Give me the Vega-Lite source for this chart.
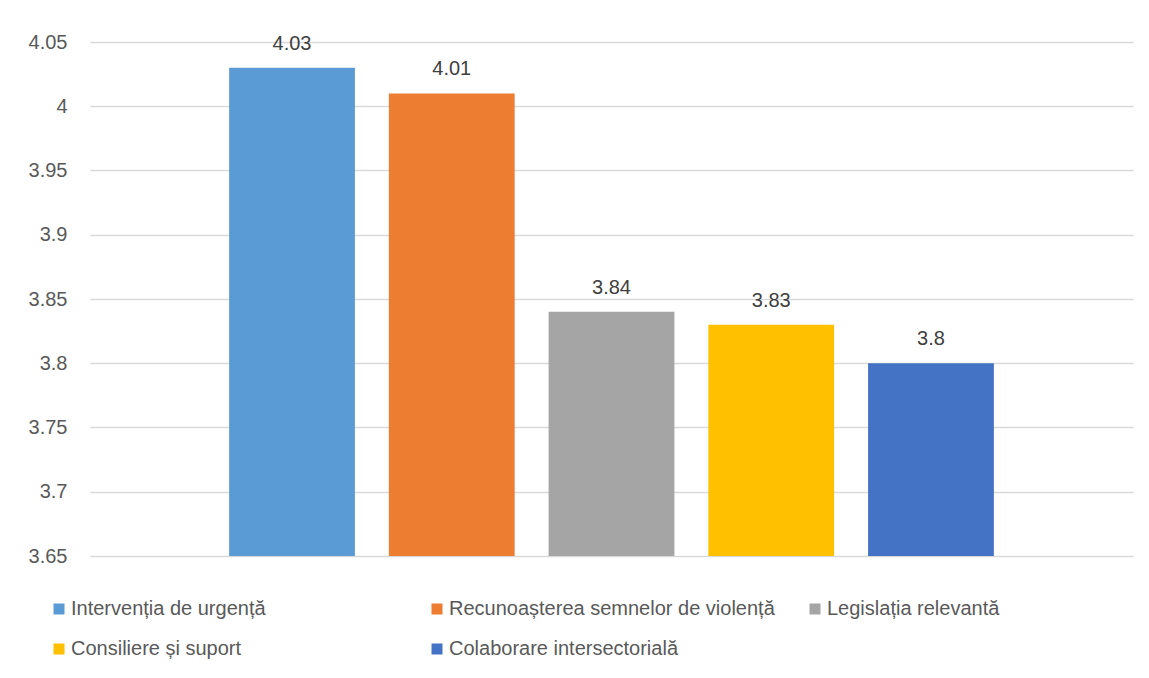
{
  "$schema": "https://vega.github.io/schema/vega-lite/v6.json",
  "autosize": {"type": "none"},
  "padding": {"left": 90, "top": 42, "right": 16, "bottom": 122},
  "width": 1043,
  "height": 514,
  "background": "white",
  "config": {
    "view": {"stroke": null},
    "font": "Liberation Sans"
  },
  "data": {
    "values": [
      {"serie": "Intervenția de urgență", "scor": 4.03},
      {"serie": "Recunoașterea semnelor de violență", "scor": 4.01},
      {"serie": "Legislația relevantă", "scor": 3.84},
      {"serie": "Consiliere și suport", "scor": 3.83},
      {"serie": "Colaborare intersectorială", "scor": 3.8}
    ]
  },
  "encoding": {
    "x": {
      "field": "serie",
      "type": "nominal",
      "sort": null,
      "axis": null,
      "scale": {"paddingInner": 0.2125, "paddingOuter": 0.871}
    },
    "y": {
      "field": "scor",
      "type": "quantitative",
      "scale": {"domain": [3.65, 4.05], "zero": false, "nice": false},
      "axis": {
        "title": null,
        "values": [3.65, 3.7, 3.75, 3.8, 3.85, 3.9, 3.95, 4, 4.05],
        "format": ".2~f",
        "domain": false,
        "ticks": false,
        "labelPadding": 23,
        "labelFont": "Liberation Sans",
        "labelFontSize": 20,
        "labelColor": "#595959",
        "gridColor": "#D9D9D9",
        "gridWidth": 1.5
      }
    }
  },
  "layer": [
    {
      "mark": {"type": "bar", "clip": true},
      "encoding": {
        "color": {
          "field": "serie",
          "type": "nominal",
          "sort": null,
          "scale": {
            "domain": ["Intervenția de urgență", "Recunoașterea semnelor de violență", "Legislația relevantă", "Consiliere și suport", "Colaborare intersectorială"],
            "range": ["#5B9BD5", "#ED7D31", "#A5A5A5", "#FFC000", "#4472C4"]
          },
          "legend": {
            "title": null,
            "orient": "none",
            "legendX": -41,
            "legendY": 557,
            "direction": "horizontal",
            "columns": 3,
            "gridAlign": "all",
            "columnPadding": 30,
            "rowPadding": 20,
            "padding": 0,
            "symbolType": "square",
            "symbolSize": 121,
            "symbolStrokeWidth": 0,
            "symbolOpacity": 1,
            "labelOffset": 2,
            "labelFont": "Liberation Sans",
            "labelFontSize": 20,
            "labelColor": "#595959",
            "labelLimit": 500
          }
        }
      }
    },
    {
      "mark": {
        "type": "text",
        "baseline": "bottom",
        "dy": -14,
        "font": "Liberation Sans",
        "fontSize": 20,
        "color": "#404040"
      },
      "encoding": {
        "text": {"field": "scor", "type": "quantitative", "format": ".2~f"}
      }
    }
  ]
}
